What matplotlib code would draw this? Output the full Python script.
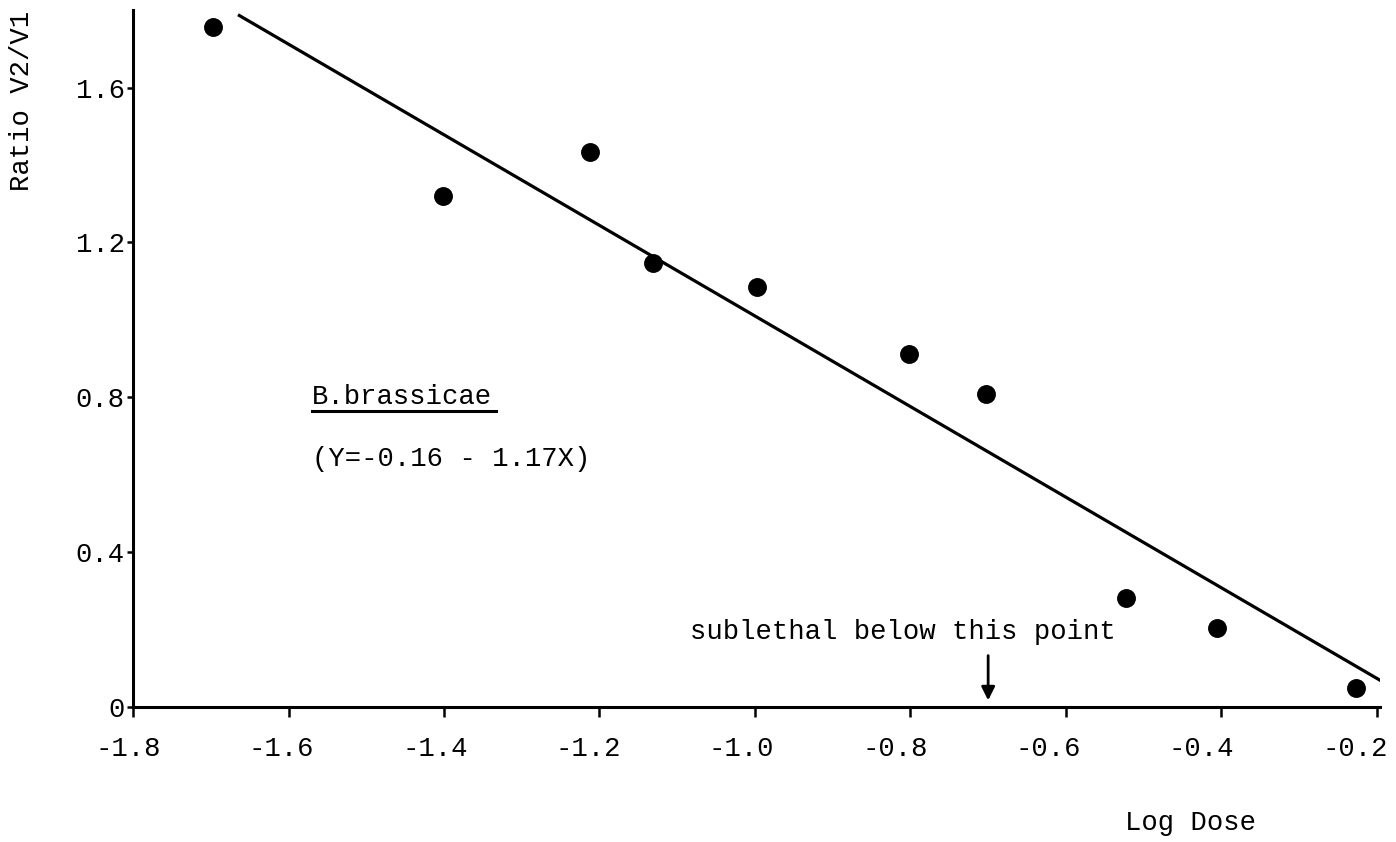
import matplotlib
matplotlib.use("Agg")
import matplotlib.pyplot as plt
import matplotlib.transforms as mtransforms
import numpy as np

# Observed ratio V2/V1 against log dose
log_dose = [-1.697, -1.401, -1.212, -1.131, -0.997, -0.802, -0.703, -0.523, -0.406, -0.227]
ratio = [1.757, 1.320, 1.434, 1.147, 1.085, 0.912, 0.809, 0.282, 0.204, 0.049]

# Fitted regression Y = a + b X
intercept = -0.16
slope = -1.17
fit_range = [-1.665, -0.195]

x_ticks = [-1.8, -1.6, -1.4, -1.2, -1.0, -0.8, -0.6, -0.4, -0.2]
x_tick_labels = ["-1.8", "-1.6", "-1.4", "-1.2", "-1.0", "-0.8", "-0.6", "-0.4", "-0.2"]
y_ticks = [0, 0.4, 0.8, 1.2, 1.6]
y_tick_labels = ["0", "0.4", "0.8", "1.2", "1.6"]

sublethal_dose = -0.7

plt.rcParams["font.family"] = ["Liberation Mono", "DejaVu Sans Mono"]
fs = 19.6

fig = plt.figure(figsize=(13.96, 8.42), dpi=100)
ax = fig.add_axes([0.0953, 0.1603, 0.8932, 0.8277])

ax.scatter(log_dose, ratio, s=185, color="black", zorder=3, linewidths=0)
xf = np.array(fit_range)
ax.plot(xf, intercept + slope * xf, color="black", lw=2.3, solid_capstyle="butt")

ax.set_xlim(-1.8, -0.196)
ax.set_ylim(0, 1.8)
ax.set_xticks(x_ticks)
ax.set_xticklabels(x_tick_labels, fontsize=fs)
ax.set_yticks(y_ticks)
ax.set_yticklabels(y_tick_labels, fontsize=fs)
ax.tick_params(axis="x", direction="out", length=7, width=1.8, pad=14)
ax.tick_params(axis="y", direction="out", length=4, width=1.8, pad=2)

# typed labels drift slightly left of their ticks towards the right end
for i, lab in enumerate(ax.get_xticklabels()):
    shift = mtransforms.ScaledTranslation((-5 - 2.1 * i) / 100, 0, fig.dpi_scale_trans)
    lab.set_transform(lab.get_transform() + shift)

for side in ("top", "right"):
    ax.spines[side].set_visible(False)
for side in ("left", "bottom"):
    ax.spines[side].set_linewidth(2.2)

fig.text(0.016, 0.88, "Ratio V2/V1", rotation=90, fontsize=fs,
         ha="center", va="center")
fig.text(0.853, 0.022, "Log Dose", fontsize=fs, ha="center", va="center")

# Species label with underline and equation
ax.text(-1.57, 0.80, "B.brassicae", fontsize=fs, ha="left", va="center")
ax.plot([-1.57, -1.333], [0.764, 0.764], color="black", lw=2.2)
ax.text(-1.57, 0.64, "(Y=-0.16 - 1.17X)", fontsize=fs, ha="left", va="center")

# Sublethal threshold marker
ax.text(-0.81, 0.195, "sublethal below this point", fontsize=fs,
        ha="center", va="center")
ax.annotate("", xy=(sublethal_dose, 0.01), xytext=(sublethal_dose, 0.14),
            arrowprops=dict(arrowstyle="-|>", color="black", lw=2,
                            mutation_scale=20))

fig.savefig("out.png", dpi=100, facecolor="white")
